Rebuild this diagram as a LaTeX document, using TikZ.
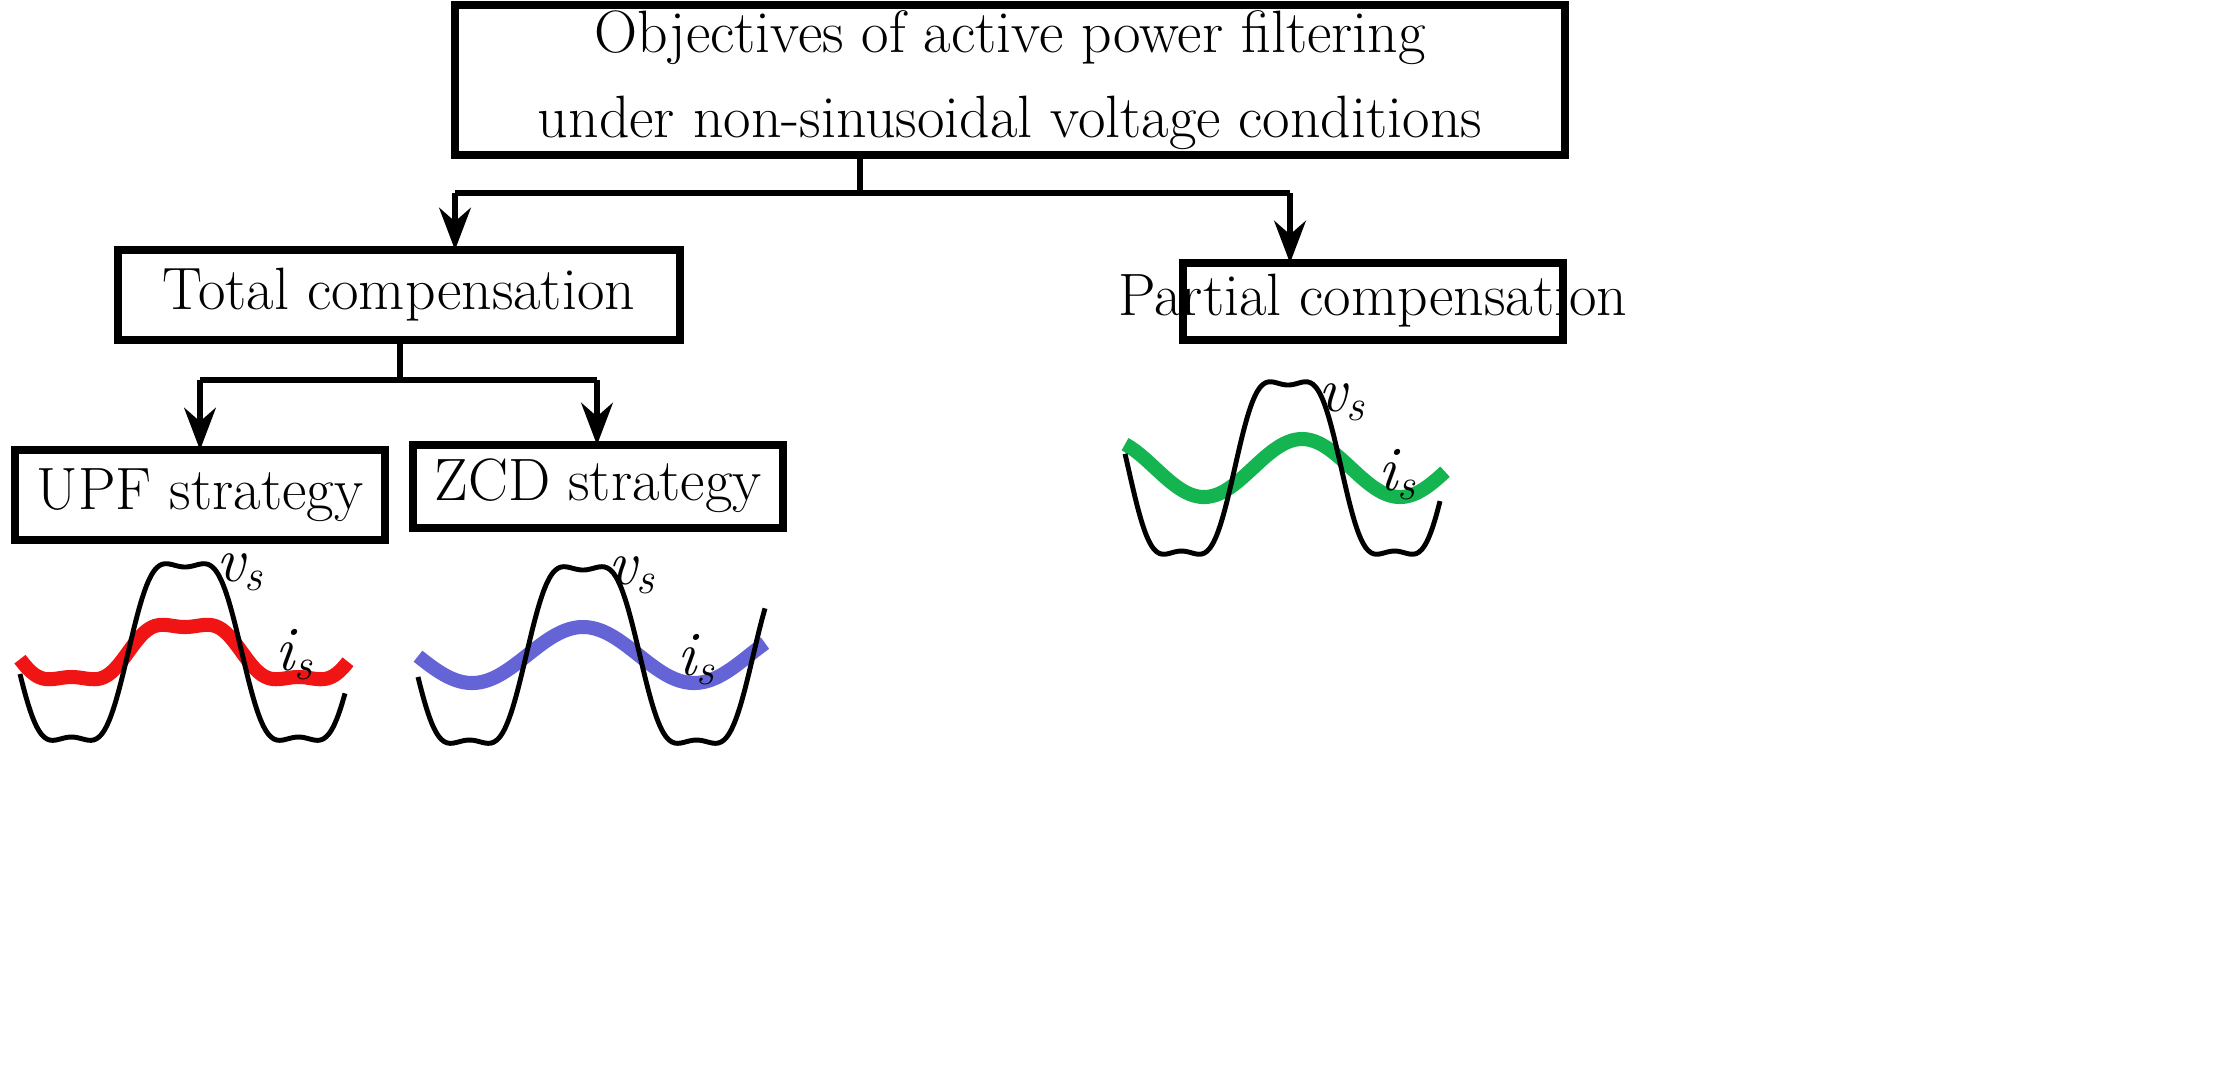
\documentclass[tikz,border=0pt]{standalone}
\usetikzlibrary{arrows.meta}
\begin{document}
\begin{tikzpicture}[x=0.01cm,y=-0.01cm,
  txt/.style={font=\fontsize{17}{22}\selectfont,align=center},
  frame/.style={line width=2.2pt},
  conn/.style={line width=1.6pt},
  arr/.style={conn,-{Stealth[length=12pt,width=9pt]}},
  volt/.style={line width=1.4pt,black,smooth},
  lab/.style={font=\fontsize{18}{20}\selectfont\itshape}]
\useasboundingbox (0,0) rectangle (2234,1078);
\fill[white] (0,0) rectangle (2234,1078);
\definecolor{upf}{RGB}{240,20,20}
\definecolor{zcd}{RGB}{100,100,215}
\definecolor{pc}{RGB}{20,180,80}
% boxes
\draw[frame] (455,5) rectangle (1565,155);
\node[txt,font=\fontsize{17}{24}\selectfont] (toptxt) at (1010,80) {Objectives of active power filtering\\under non-sinusoidal voltage conditions};
\coordinate (topb) at (860,155);
\draw[frame] (118,250) rectangle (680,340);
\node[txt] (tot) at (399,295) {Total compensation};
\draw[frame] (1183,263) rectangle (1563,340);
\node[txt] (par) at (1373,301) {Partial compensation};
\draw[frame] (15,450) rectangle (385,540);
\node[txt] (upf) at (200,495) {UPF strategy};
\draw[frame] (413,445) rectangle (783,528);
\node[txt] (zcd) at (598,486) {ZCD strategy};
% connectors
\coordinate (j1) at (860,193);
\coordinate (l1) at (455,193);
\coordinate (r1) at (1290,193);
\coordinate (tl) at (455,250);
\coordinate (tr) at (1290,263);
\draw[conn] (topb) -- (j1);
\draw[conn] (l1) -- (r1);
\draw[arr] (l1) -- (tl);
\draw[arr] (r1) -- (tr);
\coordinate (tb) at (400,340);
\coordinate (j2) at (400,380);
\coordinate (l2) at (200,380);
\coordinate (r2) at (597,380);
\coordinate (ul) at (200,450);
\coordinate (zr) at (597,445);
\draw[conn] (tb) -- (j2);
\draw[conn] (l2) -- (r2);
\draw[arr] (l2) -- (ul);
\draw[arr] (r2) -- (zr);
% waveforms UPF
\draw[upf,line width=4pt,smooth] plot[domain=20:348,samples=120] (\x,{652-25*(cos((\x-185)/227*360)-cos((\x-185)/227*1080)/5)/0.8});
\draw[volt] plot[domain=20:345,samples=120] (\x,{652-85*(cos((\x-185)/227*360)-cos((\x-185)/227*1080)/6)/0.8333});
\node[lab] (v1) at (240,572) {v\textsubscript{s}};
\node[lab] (i1) at (295,655) {i\textsubscript{s}};
% ZCD
\draw[zcd,line width=4pt,smooth] plot[domain=418:765,samples=120] (\x,{655-28*cos((\x-583)/222*360)});
\draw[volt] plot[domain=418:765,samples=120] (\x,{655-85*(cos((\x-583)/227*360)-cos((\x-583)/227*1080)/6)/0.8333});
\node[lab] (v2) at (632,575) {v\textsubscript{s}};
\node[lab] (i2) at (697,660) {i\textsubscript{s}};
% Partial
\draw[pc,line width=4pt,smooth] plot[domain=1125:1445,samples=120] (\x,{468-29*cos((\x-1302)/196*360)});
\draw[volt] plot[domain=1125:1440,samples=120] (\x,{468-83*(cos((\x-1288)/213*360)-cos((\x-1288)/213*1080)/6)/0.8333});
\node[lab] (v3) at (1342,402) {v\textsubscript{s}};
\node[lab] (i3) at (1398,475) {i\textsubscript{s}};
\end{tikzpicture}
\end{document}
